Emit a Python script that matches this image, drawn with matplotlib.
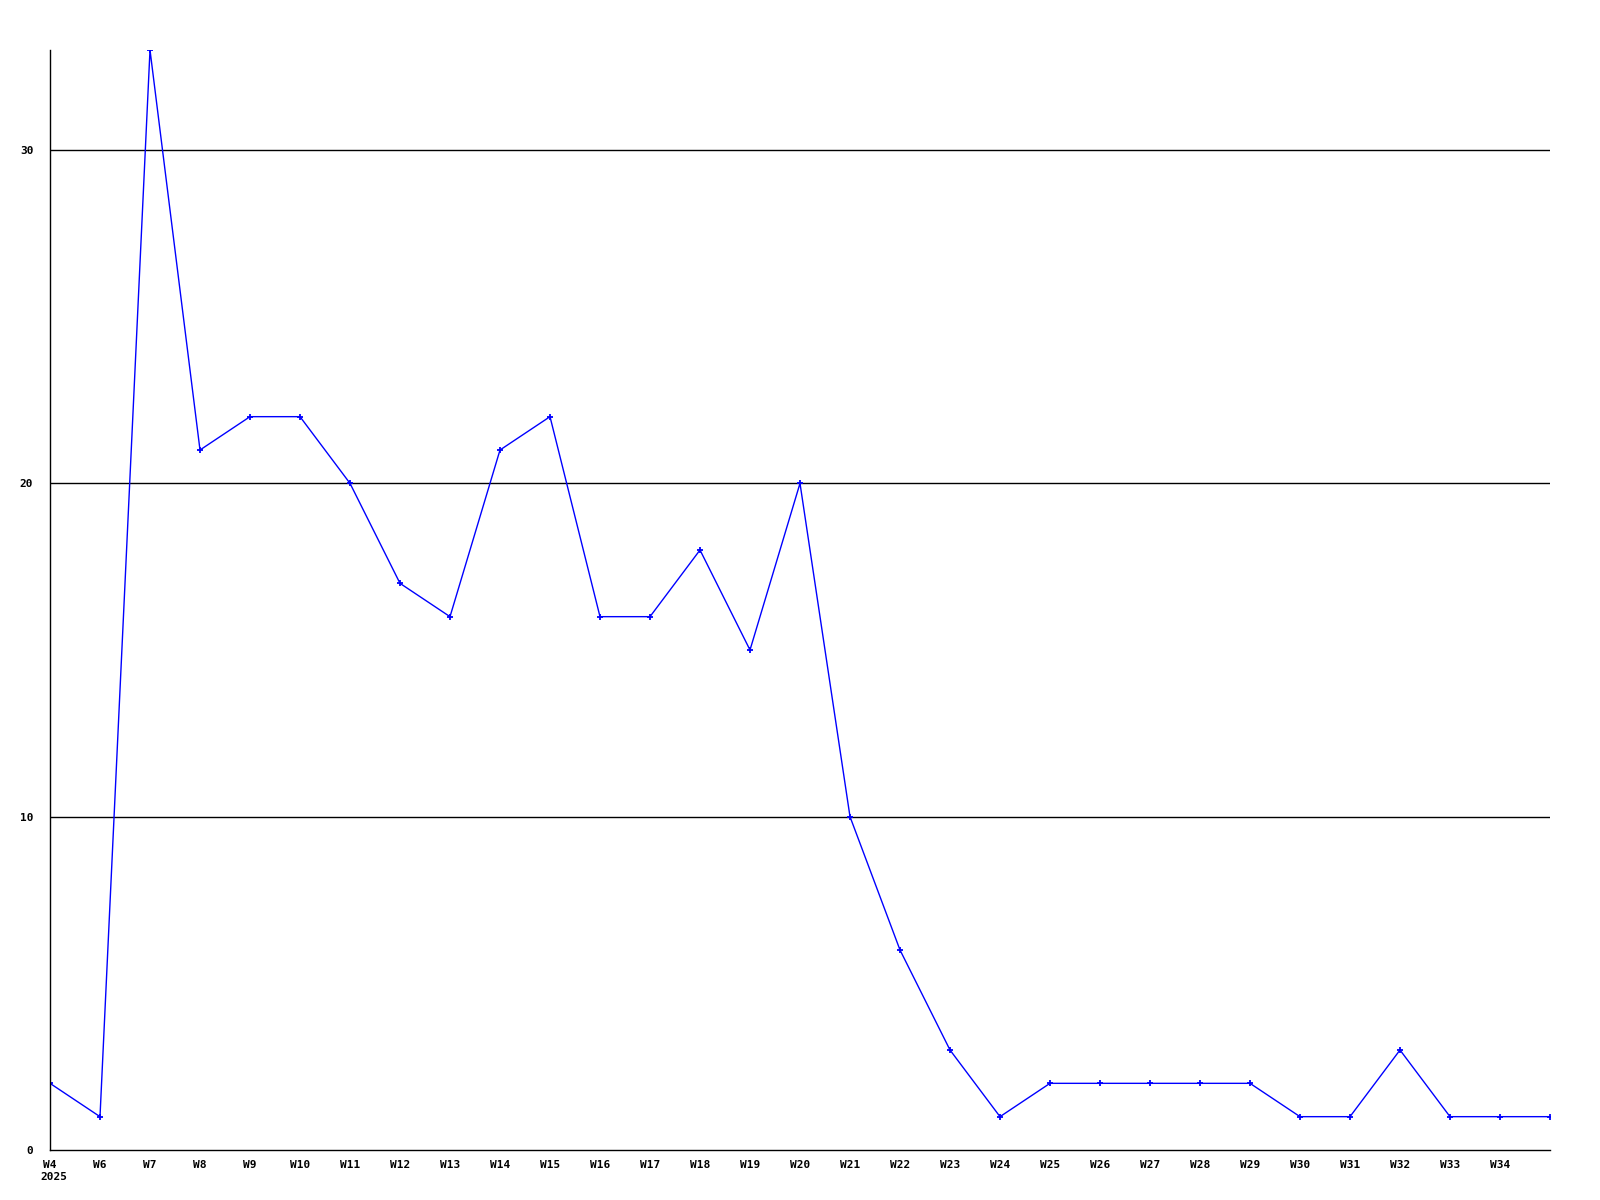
import matplotlib
matplotlib.use("Agg")
import matplotlib.pyplot as plt

weeks = ["W4", "W6", "W7", "W8", "W9", "W10", "W11", "W12", "W13", "W14", "W15",
         "W16", "W17", "W18", "W19", "W20", "W21", "W22", "W23", "W24", "W25",
         "W26", "W27", "W28", "W29", "W30", "W31", "W32", "W33", "W34", ""]
values = [2, 1, 33, 21, 22, 22, 20, 17, 16, 21, 22,
          16, 16, 18, 15, 20, 10, 6, 3, 1, 2,
          2, 2, 2, 2, 1, 1, 3, 1, 1, 1]
yticks = [0, 10, 20, 30]
year_label = "2025"

fig = plt.figure(figsize=(16, 12), dpi=100)
ax = fig.add_axes([50/1600, 50/1200, 1500/1600, 1100/1200])
x = list(range(len(values)))
ax.plot(x, values, color="#0000ff", linewidth=1, marker="+", markersize=4,
        markeredgewidth=1.3)
ax.set_xlim(0, len(values) - 1)
ax.set_ylim(0, 33)
for v in yticks[1:]:
    ax.axhline(v, color="black", linewidth=1, zorder=0)
ax.set_yticks(yticks)
ax.set_yticklabels([str(v) for v in yticks], fontfamily="DejaVu Sans Mono",
                   fontweight="bold", fontsize=8)
ax.set_xticks(x[:-1])
ax.set_xticklabels(weeks[:-1], fontfamily="DejaVu Sans Mono",
                   fontweight="bold", fontsize=8)
ax.tick_params(axis="both", length=0)
ax.tick_params(axis="x", pad=7)
ax.tick_params(axis="y", pad=12)
for s in ["top", "right"]:
    ax.spines[s].set_visible(False)
for s in ["left", "bottom"]:
    ax.spines[s].set_linewidth(1)
ax.text(-0.2, -0.025, year_label, transform=ax.get_xaxis_transform(),
        ha="left", va="center", fontfamily="DejaVu Sans Mono",
        fontweight="bold", fontsize=8)
fig.savefig("out.png", dpi=100, facecolor="white")
